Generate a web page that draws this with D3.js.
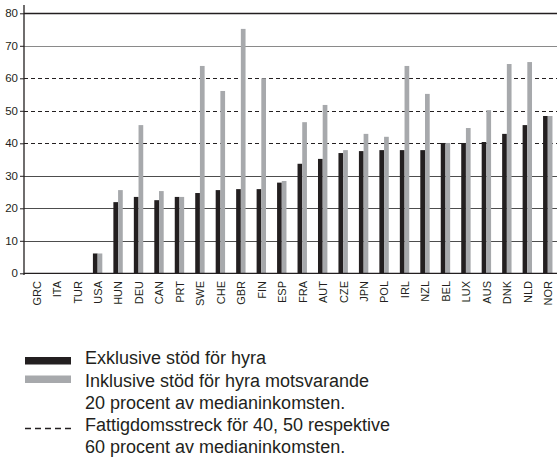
<!DOCTYPE html>
<html>
<head>
<meta charset="utf-8">
<script src="https://cdn.jsdelivr.net/npm/d3@7"></script>
<style>
  html, body { margin: 0; padding: 0; background: #fff; }
  svg { display: block; font-family: "Liberation Sans", Arial, Helvetica, sans-serif; }
</style>
</head>
<body>
<svg id="chart" width="557" height="459"></svg>
<script>
const categories = ["GRC","ITA","TUR","USA","HUN","DEU","CAN","PRT","SWE","CHE","GBR","FIN","ESP","FRA","AUT","CZE","JPN","POL","IRL","NZL","BEL","LUX","AUS","DNK","NLD","NOR"];
const exclusive = [null,null,null,6.1,21.9,23.5,22.5,23.5,24.7,25.6,25.9,25.9,27.9,33.7,35.2,37.0,37.6,37.9,37.9,37.9,40.1,40.1,40.4,42.9,45.6,48.4];
const inclusive = [null,null,null,6.1,25.6,45.6,25.3,23.5,63.8,56.1,75.2,60.0,28.4,46.5,51.8,37.9,42.9,42.0,63.8,55.2,40.1,44.7,50.2,64.4,65.0,48.4];
const yTicks = [0,10,20,30,40,50,60,70,80];
const dashedTicks = [40,50,60];
const legendLabels = [
  ["Exklusive stöd för hyra"],
  ["Inklusive stöd för hyra motsvarande", "20 procent av medianinkomsten."],
  ["Fattigdomsstreck för 40, 50 respektive", "60 procent av medianinkomsten."]
];

const svg = d3.select("#chart");
const W = 557;
const left = 24;
const colBlack = "#231f20", colGray = "#a7a9ac";

const y = d3.scaleLinear().domain([0, 80]).range([273.3, 13.3]);
const x = d3.scaleBand().domain(categories).range([26, 558]).padding(0);
const barW = 4.7;

// gridlines
const grid = svg.append("g");
yTicks.filter(t => t > 0).forEach(t => {
  const dashed = dashedTicks.includes(t);
  let stroke = "#4d4d4d";
  if (t === 80) stroke = "#231f20";
  if (t === 70) stroke = "#8a8a8a";
  if (dashed) stroke = "#231f20";
  grid.append("line")
    .attr("x1", left).attr("x2", W)
    .attr("y1", Math.round(y(t)) + 0.5).attr("y2", Math.round(y(t)) + 0.5)
    .attr("stroke", stroke)
    .attr("stroke-width", t === 80 ? 1.3 : 1.1)
    .attr("stroke-dasharray", dashed ? "4,3" : null);
});

// bars
const bars = svg.append("g");
categories.forEach((c, i) => {
  const cx = x(c) + x.bandwidth() / 2;
  if (exclusive[i] != null) {
    bars.append("rect")
      .attr("x", cx - barW).attr("width", barW)
      .attr("y", y(exclusive[i])).attr("height", y(0) - y(exclusive[i]))
      .attr("fill", colBlack);
  }
  if (inclusive[i] != null) {
    bars.append("rect")
      .attr("x", cx).attr("width", barW)
      .attr("y", y(inclusive[i])).attr("height", y(0) - y(inclusive[i]))
      .attr("fill", colGray);
  }
});

// zero line
svg.append("line")
  .attr("x1", left).attr("x2", W)
  .attr("y1", y(0)).attr("y2", y(0))
  .attr("stroke", colBlack).attr("stroke-width", 1.3);

// y axis
const yAxis = d3.axisLeft(y).tickValues(yTicks).tickSize(4).tickPadding(2).tickFormat(d3.format("d"));
const ya = svg.append("g").attr("transform", `translate(${left},0)`).call(yAxis);
ya.select(".domain").remove();
ya.selectAll(".tick line").attr("stroke", colBlack);
ya.selectAll(".tick text").attr("font-size", "11.5px").attr("fill", colBlack)
  .attr("font-family", "Liberation Sans, Arial, sans-serif");
svg.append("line")
  .attr("x1", left).attr("x2", left)
  .attr("y1", 5).attr("y2", 275)
  .attr("stroke", colBlack).attr("stroke-width", 1.3);

// x labels
const xl = svg.append("g");
categories.forEach(c => {
  const cx = x(c) + x.bandwidth() / 2 + 0.5;
  xl.append("text")
    .attr("transform", `translate(${cx},281) rotate(-90)`)
    .attr("text-anchor", "end")
    .attr("dy", "0.35em")
    .attr("font-size", "11px")
    .attr("fill", colBlack)
    .text(c);
});

// legend
const lg = svg.append("g");
const lx = 25, lw = 46, tx = 85;
lg.append("rect").attr("x", lx).attr("y", 357).attr("width", lw).attr("height", 7.5).attr("fill", colBlack);
lg.append("rect").attr("x", lx).attr("y", 375.5).attr("width", lw).attr("height", 7.5).attr("fill", colGray);
lg.append("line").attr("x1", lx).attr("x2", lx + lw).attr("y1", 428.5).attr("y2", 428.5)
  .attr("stroke", colBlack).attr("stroke-width", 1.5).attr("stroke-dasharray", "6,4");
const baselines = [[364], [386.5, 408.5], [430.5, 452.5]];
legendLabels.forEach((lines, k) => {
  lines.forEach((t, j) => {
    lg.append("text").attr("x", tx).attr("y", baselines[k][j])
      .attr("font-size", "18px").attr("fill", colBlack).text(t);
  });
});
</script>
</body>
</html>
